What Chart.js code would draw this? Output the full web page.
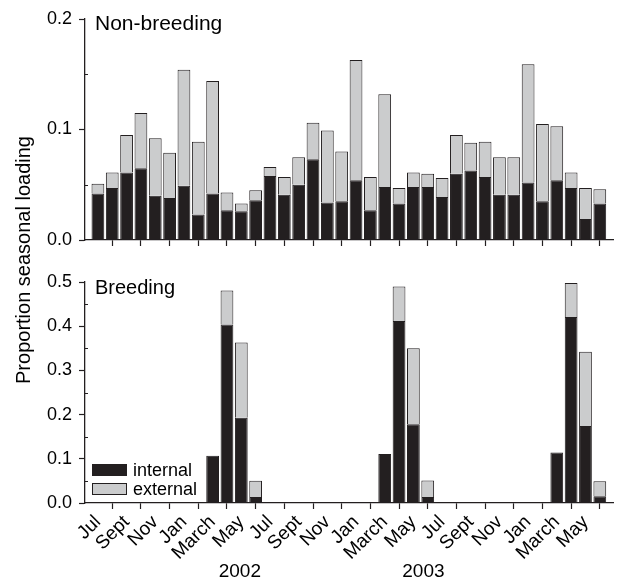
<!DOCTYPE html>
<html><head><meta charset="utf-8">
<script src="https://cdn.jsdelivr.net/npm/chart.js@4/dist/chart.umd.min.js"></script>
<style>
html,body{margin:0;padding:0;background:#fff;}
#wrap{position:relative;width:618px;height:582px;background:#fff;}
#c2,#c1{position:absolute;left:0;top:0;}
</style></head><body>
<div id="wrap"><canvas id="c2" width="618" height="582"></canvas><canvas id="c1" width="618" height="262"></canvas></div>
<script>
const monthCycle = ['Jul','Aug','Sept','Oct','Nov','Dec','Jan','Feb','March','April','May','June'];
const months = monthCycle.concat(monthCycle, monthCycle);
const yearLabels = ['2002', '2003'];
const seriesNames = ['internal', 'external'];

const nonBreedingInternal = [0.042,0.047,0.061,0.065,0.040,0.038,0.049,0.023,0.042,0.027,0.026,0.036,
  0.058,0.041,0.050,0.073,0.034,0.035,0.054,0.027,0.048,0.033,0.048,0.048,
  0.039,0.060,0.063,0.057,0.041,0.041,0.052,0.035,0.054,0.047,0.019,0.033];
const nonBreedingExternal = [0.009,0.014,0.034,0.050,0.052,0.041,0.105,0.066,0.102,0.016,0.007,0.009,
  0.008,0.016,0.025,0.033,0.065,0.045,0.109,0.030,0.084,0.014,0.013,0.012,
  0.017,0.035,0.025,0.032,0.034,0.034,0.107,0.070,0.049,0.014,0.028,0.013];
const breedingInternal = [0,0,0,0,0,0,0,0,0.107,0.404,0.193,0.0135,
  0,0,0,0,0,0,0,0,0.111,0.412,0.178,0.0135,
  0,0,0,0,0,0,0,0,0.114,0.421,0.174,0.015];
const breedingExternal = [0,0,0,0,0,0,0,0,0,0.077,0.170,0.037,
  0,0,0,0,0,0,0,0,0,0.078,0.172,0.0375,
  0,0,0,0,0,0,0,0,0,0.077,0.168,0.034];

const FONT = '"Liberation Sans", Arial, Helvetica, sans-serif';
const INK = '#231f20';
const GREY = '#cbcccd';

function toPoints(arr){ return arr.map((v,i)=>({x:i, y:v})); }

function datasets(internal, external){
  return [
    {label: seriesNames[0], data: toPoints(internal), backgroundColor: INK,
     borderColor: INK, borderWidth: c => (c.raw && c.raw.y > 0 ? 1 : 0), borderSkipped: 'start',
     categoryPercentage: 1, barPercentage: 0.89},
    {label: seriesNames[1], data: toPoints(external), backgroundColor: GREY,
     borderColor: INK, borderWidth: c => (c.raw && c.raw.y > 0 ? 1 : 0), borderSkipped: 'start',
     categoryPercentage: 1, barPercentage: 0.89}
  ];
}

function panelTitle(text, dx, baseline, size){
  return {
    id: 'panelTitle' + text,
    afterDraw(chart){
      const ctx = chart.ctx;
      ctx.save();
      ctx.fillStyle = '#000';
      ctx.font = size + 'px ' + FONT;
      ctx.textAlign = 'left';
      ctx.textBaseline = 'alphabetic';
      ctx.fillText(text, chart.chartArea.left + dx, baseline);
      ctx.restore();
    }
  };
}

const minorTicks = {
  id: 'minorTicks',
  afterDraw(chart){
    const y = chart.scales.y;
    const ctx = chart.ctx;
    const left = chart.chartArea.left;
    ctx.save();
    ctx.strokeStyle = INK;
    ctx.lineWidth = 1;
    for (let v = 0.05; v < y.max; v += 0.1){
      const p = Math.round(y.getPixelForValue(v)) + 0.5;
      ctx.beginPath();
      ctx.moveTo(left, p);
      ctx.lineTo(left + 3, p);
      ctx.stroke();
    }
    ctx.restore();
  }
};

function options(yMax, isBottom, padTop){
  return {
    responsive: false,
    animation: false,
    devicePixelRatio: 1,
    layout: {padding: {top: padTop, right: 5, left: 0, bottom: 0}},
    plugins: {legend: {display: false}, tooltip: {enabled: false}, title: {display: false}},
    scales: {
      x: {
        type: 'linear', min: -0.9, max: 35.92, stacked: true, offset: false,
        afterBuildTicks: s => { s.ticks = months.map((m,i)=>({value:i})).filter(t => t.value % 2 === 0); },
        ticks: {display: isBottom, autoSkip: false, minRotation: 45, maxRotation: 45, padding: 2,
          color: '#000', font: {family: FONT, size: 19}, callback: v => months[v]},
        grid: {drawOnChartArea: false, drawTicks: true, tickLength: 6, tickColor: INK, tickWidth: 1.2},
        border: {display: true, color: INK, width: 1.3},
        afterFit: s => { s.height = isBottom ? 79 : 22; }
      },
      y: {
        stacked: true, min: 0, max: yMax,
        ticks: {stepSize: 0.1, padding: 7, color: '#000', font: {family: FONT, size: 18},
          callback: v => Number(v).toFixed(1)},
        grid: {drawOnChartArea: false, drawTicks: true, tickLength: 6, tickColor: INK, tickWidth: 1.2},
        border: {display: true, color: INK, width: 1.3},
        afterFit: s => { s.width = 85; }
      }
    }
  };
}

const legendPlugin = {
  id: 'boxLegend',
  afterDraw(chart){
    const ctx = chart.ctx;
    const a = chart.chartArea;
    ctx.save();
    ctx.font = '18px ' + FONT;
    ctx.textBaseline = 'alphabetic';
    chart.data.datasets.forEach((ds, i) => {
      const top = a.bottom - 39 + i * 19;
      const left = a.left + 7;
      ctx.fillStyle = ds.backgroundColor;
      ctx.fillRect(left, top, 35, 12);
      ctx.strokeStyle = INK;
      ctx.lineWidth = 1;
      ctx.strokeRect(left + 0.5, top + 0.5, 34, 11);
      ctx.fillStyle = '#000';
      ctx.fillText(ds.label, left + 41, top + 12);
    });
    ctx.restore();
  }
};

const outerTextPlugin = {
  id: 'outerText',
  afterDraw(chart){
    const ctx = chart.ctx;
    const x = chart.scales.x;
    ctx.save();
    ctx.fillStyle = '#000';
    ctx.font = '20px ' + FONT;
    ctx.translate(24, 260);
    ctx.rotate(-Math.PI / 2);
    ctx.textAlign = 'center';
    ctx.textBaseline = 'middle';
    ctx.fillText('Proportion seasonal loading', 0, 0);
    ctx.restore();
    ctx.save();
    ctx.fillStyle = '#000';
    ctx.font = '19px ' + FONT;
    ctx.textAlign = 'center';
    ctx.textBaseline = 'alphabetic';
    const at = [9.9, 22.7];
    yearLabels.forEach((t, i) => ctx.fillText(t, x.getPixelForValue(at[i]), 577));
    ctx.restore();
  }
};

new Chart(document.getElementById('c2'), {
  type: 'bar',
  data: {datasets: datasets(breedingInternal, breedingExternal)},
  options: options(0.5, true, 282),
  plugins: [panelTitle('Breeding', 10, 294, 20), legendPlugin, outerTextPlugin, minorTicks]
});

new Chart(document.getElementById('c1'), {
  type: 'bar',
  data: {datasets: datasets(nonBreedingInternal, nonBreedingExternal)},
  options: options(0.2, false, 19),
  plugins: [panelTitle('Non-breeding', 10, 30, 21), minorTicks]
});
</script>
</body></html>
